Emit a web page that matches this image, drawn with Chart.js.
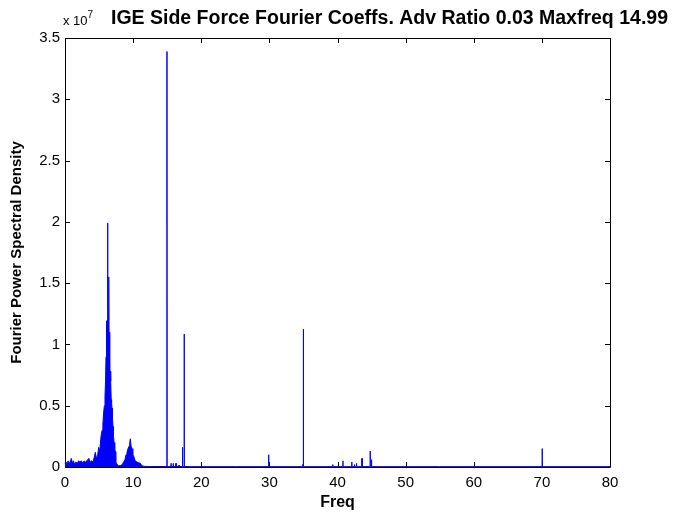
<!DOCTYPE html>
<html>
<head>
<meta charset="utf-8">
<script src="https://cdn.jsdelivr.net/npm/chart.js@4.4.0/dist/chart.umd.min.js"></script>
<style>
  body { margin: 0; background: #fff; }
</style>
</head>
<body>
<canvas id="myChart" width="674" height="516"></canvas>
<script>
// frequency (x) and fourier power spectral density (y)
const freq = [
  0, 0.15, 0.3, 0.45, 0.6, 0.75, 0.93, 1.1, 1.25, 1.4, 1.6, 1.8, 2.0, 2.2, 2.4, 2.6, 2.8, 3.0, 3.2, 3.5,
  3.7, 3.9, 4.1, 4.3, 4.45, 4.6, 4.8, 4.94, 5.1, 5.29, 5.45, 5.56, 5.68, 5.78, 5.87, 5.95, 6.02, 6.07, 6.12, 6.18,
  6.23, 6.27, 6.31, 6.36, 6.42, 6.47, 6.53, 6.6, 6.66, 6.71, 6.78, 6.84, 6.9, 6.97, 7.05, 7.12, 7.2, 7.3, 7.39, 7.45,
  7.55, 7.8, 8.1, 8.4, 8.6, 8.8, 8.96, 9.1, 9.25, 9.4, 9.5, 9.6, 9.7, 9.84, 9.95, 10.1, 10.3, 10.57, 10.8, 11.06,
  11.3, 11.6, 12.5, 13.5, 14.5, 14.96, 14.97, 14.98, 15.4, 15.56, 15.57, 15.58, 15.88, 15.89, 15.9, 16.29, 16.3, 16.31, 16.73, 16.74,
  16.75, 17.2, 17.24, 17.27, 17.49, 17.5, 17.51, 18.5, 25, 29.89, 29.9, 29.91, 34.85, 34.9, 34.98, 34.99, 35.0, 35.01, 35.1, 39.28,
  39.3, 39.32, 40.79, 40.8, 40.81, 42.09, 42.1, 42.11, 42.49, 42.5, 42.51, 42.79, 42.8, 42.81, 43.59, 43.6, 43.61, 44.79, 44.8, 44.81,
  44.99, 45.0, 45.01, 55, 70.04, 70.05, 70.06, 80
];
const psd = [
  0.03e7, 0.04e7, 0.02e7, 0.05e7, 0.03e7, 0.04e7, 0.07e7, 0.03e7, 0.05e7, 0.02e7, 0.04e7, 0.03e7, 0.05e7, 0.04e7, 0.05e7, 0.03e7, 0.05e7, 0.04e7, 0.05e7, 0.07e7,
  0.04e7, 0.05e7, 0.04e7, 0.08e7, 0.12e7, 0.07e7, 0.1e7, 0.16e7, 0.13e7, 0.25e7, 0.3e7, 0.35e7, 0.45e7, 0.5e7, 0.58e7, 0.7e7, 0.9e7, 1.19e7, 1.0e7, 1.2e7,
  1.5e7, 1.99e7, 1.3e7, 1.2e7, 1.55e7, 1.1e7, 0.85e7, 0.75e7, 0.78e7, 0.7e7, 0.55e7, 0.52e7, 0.48e7, 0.4e7, 0.33e7, 0.25e7, 0.2e7, 0.15e7, 0.125e7, 0.05e7,
  0.03e7, 0.01e7, 0.01e7, 0.02e7, 0.04e7, 0.06e7, 0.1e7, 0.12e7, 0.15e7, 0.17e7, 0.2e7, 0.23e7, 0.17e7, 0.15e7, 0.1e7, 0.085e7, 0.05e7, 0.04e7, 0.035e7, 0.03e7,
  0.01e7, 0.005e7, 0.004e7, 0.004e7, 0.004e7, 0.004e7, 3.39e7, 0.004e7, 0.004e7, 0.004e7, 0.03e7, 0.004e7, 0.004e7, 0.03e7, 0.004e7, 0.004e7, 0.03e7, 0.004e7, 0.004e7, 0.015e7,
  0.004e7, 0.004e7, 0.16e7, 0.004e7, 0.004e7, 1.085e7, 0.004e7, 0.003e7, 0.003e7, 0.003e7, 0.1e7, 0.003e7, 0.003e7, 0.02e7, 0.003e7, 0.003e7, 1.125e7, 0.003e7, 0.003e7, 0.003e7,
  0.02e7, 0.003e7, 0.003e7, 0.05e7, 0.003e7, 0.003e7, 0.04e7, 0.003e7, 0.003e7, 0.02e7, 0.003e7, 0.003e7, 0.03e7, 0.003e7, 0.003e7, 0.07e7, 0.003e7, 0.003e7, 0.13e7, 0.003e7,
  0.003e7, 0.06e7, 0.003e7, 0.003e7, 0.003e7, 0.15e7, 0.003e7, 0.003e7
];
const xTicks = [0, 10, 20, 30, 40, 50, 60, 70, 80];
const yTicks = [0, 0.5e7, 1e7, 1.5e7, 2e7, 2.5e7, 3e7, 3.5e7];

const titleText = "IGE Side Force Fourier Coeffs. Adv Ratio 0.03 Maxfreq 14.99";
const fontFam = "'Liberation Sans', Arial, sans-serif";
const tickFam = "'Liberation Sans Narrow', 'Liberation Sans', Arial, sans-serif";

// matlab style box with inward ticks on all four sides
const matlabBox = {
  id: "matlabBox",
  beforeDatasetsDraw(chart) {
    const { ctx, chartArea: a, scales } = chart;
    ctx.save();
    ctx.strokeStyle = "#000";
    ctx.lineWidth = 1;
    ctx.beginPath();
    ctx.rect(a.left + 0.5, a.top + 0.5, a.right - a.left, a.bottom - a.top);
    for (const v of xTicks) {
      const px = Math.round(scales.x.getPixelForValue(v)) + 0.5;
      ctx.moveTo(px, a.bottom);
      ctx.lineTo(px, a.bottom - 5);
      ctx.moveTo(px, a.top);
      ctx.lineTo(px, a.top + 5);
    }
    for (const v of yTicks) {
      const py = Math.round(scales.y.getPixelForValue(v)) + 0.5;
      ctx.moveTo(a.left, py);
      ctx.lineTo(a.left + 5, py);
      ctx.moveTo(a.right, py);
      ctx.lineTo(a.right - 5, py);
    }
    ctx.stroke();
    ctx.restore();
  },
  afterDraw(chart) {
    const ctx = chart.ctx;
    ctx.save();
    ctx.fillStyle = "#000";
    ctx.textBaseline = "alphabetic";
    ctx.textAlign = "right";
    ctx.font = "bold 19.5px " + fontFam;
    ctx.fillText(titleText, 668, 24);
    ctx.textAlign = "left";
    ctx.font = "13px " + tickFam;
    ctx.fillText("x 10", 63, 25);
    const w = ctx.measureText("x 10").width;
    ctx.font = "10px " + tickFam;
    ctx.fillText("7", 63 + w, 18);
    ctx.restore();
  },
};

const ctx = document.getElementById("myChart").getContext("2d");
const myChart = new Chart(ctx, {
  type: "line",
  data: {
    datasets: [
      {
        label: "PSD",
        data: freq.map((f, i) => ({ x: f, y: psd[i] })),
        borderColor: "#0000ff",
        backgroundColor: "#0000ff",
        borderWidth: 1,
        pointRadius: 0,
        tension: 0,
        fill: "origin",
        clip: 3,
      },
    ],
  },
  plugins: [matlabBox],
  options: {
    responsive: false,
    animation: false,
    devicePixelRatio: 1,
    layout: { padding: { left: 0, top: 38, right: 64, bottom: 0 } },
    plugins: { legend: { display: false }, tooltip: { enabled: false } },
    scales: {
      x: {
        type: "linear",
        min: 0,
        max: 80,
        afterFit(scale) { scale.height = 49; },
        afterBuildTicks(scale) { scale.ticks = xTicks.map((v) => ({ value: v })); },
        grid: { display: false, drawTicks: false },
        border: { display: false },
        ticks: {
          color: "#000",
          padding: 7,
          maxRotation: 0,
          autoSkip: false,
          font: { family: tickFam, size: 15 },
        },
        title: {
          display: true,
          text: "Freq",
          color: "#000",
          padding: { top: 0, bottom: 4 },
          font: { family: fontFam, size: 16, weight: "bold" },
        },
      },
      y: {
        min: 0,
        max: 3.5e7,
        afterFit(scale) { scale.width = 65; },
        afterBuildTicks(scale) { scale.ticks = yTicks.map((v) => ({ value: v })); },
        grid: { display: false, drawTicks: false },
        border: { display: false },
        ticks: {
          color: "#000",
          padding: 5,
          autoSkip: false,
          font: { family: tickFam, size: 15 },
          callback: (v) => String(+(v / 1e7).toFixed(1)),
        },
        title: {
          display: true,
          text: "Fourier Power Spectral Density",
          color: "#000",
          padding: { top: 8, bottom: 0 },
          font: { family: fontFam, size: 15, weight: "bold" },
        },
      },
    },
  },
});
</script>
</body>
</html>
